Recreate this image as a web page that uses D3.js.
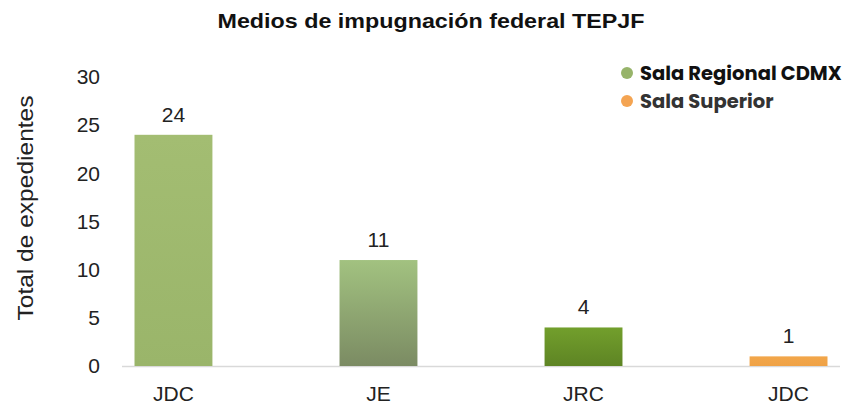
<!DOCTYPE html>
<html><head><meta charset="utf-8">
<script src="https://cdn.jsdelivr.net/npm/d3@7"></script>
<style>body{margin:0;background:#fff}</style>
</head><body>
<svg id="c" width="862" height="412"></svg>
<script>
const categories = ["JDC", "JE", "JRC", "JDC "];
const values = [24, 11, 4, 1];
const series = ["Sala Regional CDMX", "Sala Regional CDMX", "Sala Regional CDMX", "Sala Superior"];
const yTicks = [0, 5, 10, 15, 20, 25, 30];
const legendItems = ["Sala Regional CDMX", "Sala Superior"];

const svg = d3.select("#c");
const font = "Liberation Sans, Arial, sans-serif";

const defs = svg.append("defs");
const grads = [
  ["g0", "#a3bd72", "#9ab56a"],
  ["g1", "#a2c280", "#7b8b63"],
  ["g2", "#729f2c", "#5e8424"],
  ["g3", "#f2a64a", "#efa246"]
];
grads.forEach(([id, a, b]) => {
  const g = defs.append("linearGradient").attr("id", id).attr("x1", 0).attr("y1", 0).attr("x2", 0).attr("y2", 1);
  g.append("stop").attr("offset", "0%").attr("stop-color", a);
  g.append("stop").attr("offset", "100%").attr("stop-color", b);
});

const x = d3.scaleBand().domain(categories).range([122, 840]).paddingInner(0.62).paddingOuter(0.061);
const y = d3.scaleLinear().domain([0, 30]).range([366, 77]);

// title
svg.append("text").attr("x", 431).attr("y", 28).attr("text-anchor", "middle")
  .attr("font-family", font).attr("font-weight", "bold").attr("font-size", 20.5)
  .attr("fill", "#111").attr("textLength", 427).attr("lengthAdjust", "spacingAndGlyphs")
  .text("Medios de impugnación federal TEPJF");

// y axis
const yAxis = svg.append("g").attr("transform", "translate(106,0)")
  .call(d3.axisLeft(y).tickValues(yTicks).tickSize(0).tickPadding(6));
yAxis.select(".domain").remove();
yAxis.selectAll("text").attr("font-family", font).attr("font-size", 21).attr("fill", "#222");

svg.append("text").attr("transform", "translate(33,208) rotate(-90)").attr("text-anchor", "middle")
  .attr("font-family", font).attr("font-size", 22).attr("fill", "#222")
  .attr("textLength", 225).attr("lengthAdjust", "spacingAndGlyphs").text("Total de expedientes");

// baseline
svg.append("line").attr("x1", 122).attr("x2", 840).attr("y1", y(0) + 0.5).attr("y2", y(0) + 0.5)
  .attr("stroke", "#d9d9d9").attr("stroke-width", 1.5);

// bars
svg.selectAll("rect.bar").data(values).join("rect").attr("class", "bar")
  .attr("x", (d, i) => x(categories[i])).attr("width", x.bandwidth())
  .attr("y", d => y(d)).attr("height", d => y(0) - y(d))
  .attr("fill", (d, i) => `url(#g${i})`);

// value labels
svg.selectAll("text.val").data(values).join("text").attr("class", "val")
  .attr("x", (d, i) => x(categories[i]) + x.bandwidth() / 2).attr("y", d => y(d) - 13)
  .attr("text-anchor", "middle").attr("font-family", font).attr("font-size", 21).attr("fill", "#222")
  .text(d => d);

// x axis labels
const xAxis = svg.append("g").attr("transform", `translate(0,${y(0)})`)
  .call(d3.axisBottom(x).tickSize(0).tickPadding(20).tickFormat(d => d.trim()));
xAxis.select(".domain").remove();
xAxis.selectAll("text").attr("font-family", font).attr("font-size", 21).attr("fill", "#222");

// legend
const legColors = ["#97b46a", "#f4a452"];
const leg = svg.append("g");
legendItems.forEach((t, i) => {
  const yy = 73 + i * 28;
  leg.append("circle").attr("cx", 627).attr("cy", yy).attr("r", 6).attr("fill", legColors[i]);
  leg.append("text").attr("x", 640).attr("y", yy + 7).attr("font-family", "Poppins, Lato, Inter, sans-serif")
    .attr("font-weight", "bold").attr("font-size", 19.5).attr("fill", i === 0 ? "#111" : "#333").text(t);
});
</script>
</body></html>
